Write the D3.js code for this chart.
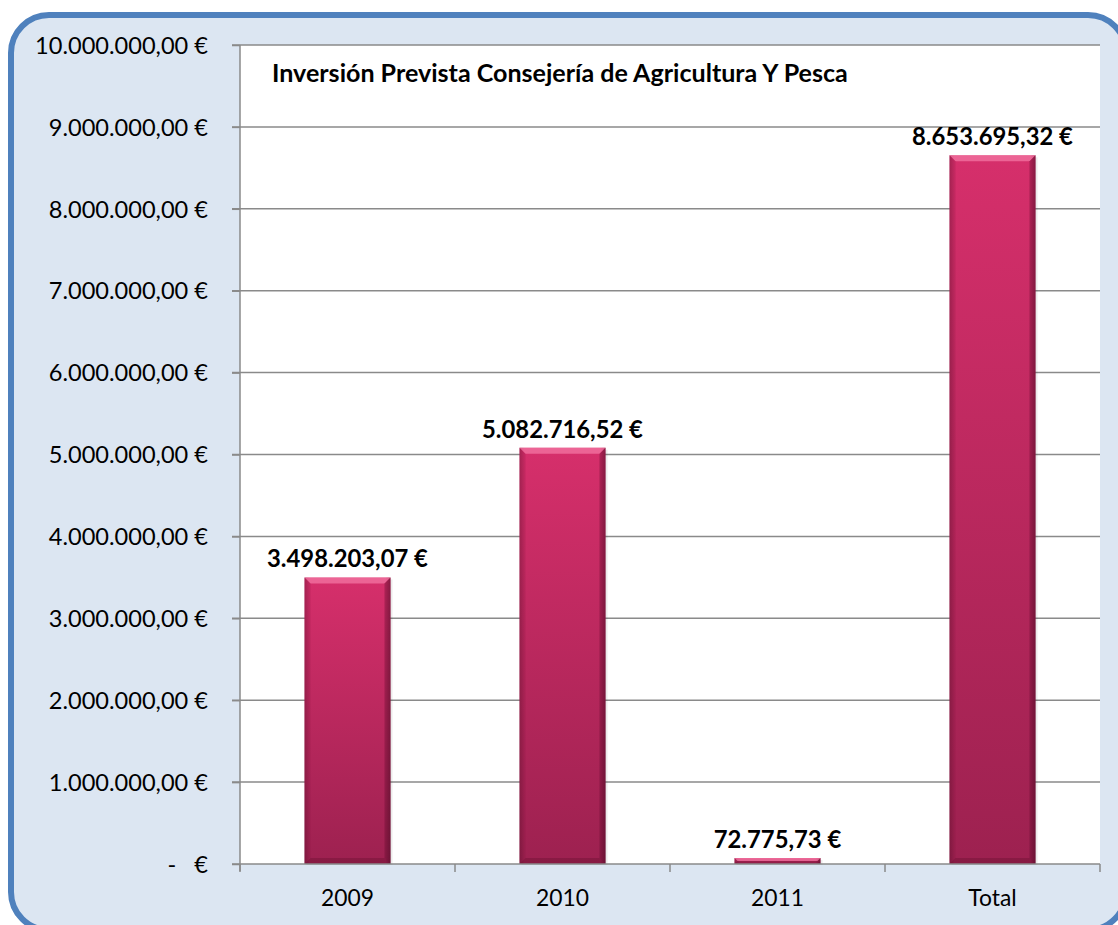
<!DOCTYPE html>
<html><head><meta charset="utf-8">
<script src="https://cdn.jsdelivr.net/npm/d3@7"></script>
<style>
html,body{margin:0;padding:0;background:#fff;}
svg{display:block;}
text{font-family:Lato,"Noto Sans",sans-serif;fill:#000;}
</style></head>
<body><svg id="chart" width="1118" height="925"></svg>
<script>
// ---- data ----
const categories = ["2009", "2010", "2011", "Total"];
const values = [3498203.07, 5082716.52, 72775.73, 8653695.32];
const yTicks = [0, 1000000, 2000000, 3000000, 4000000, 5000000, 6000000, 7000000, 8000000, 9000000, 10000000];
const title = "Inversión Prevista Consejería de Agricultura Y Pesca";

const svg = d3.select("#chart");
const plot = {left: 240, right: 1100, top: 45, bottom: 864};

const es = d3.formatLocale({decimal: ",", thousands: ".", grouping: [3], currency: ["", " €"]});
const fmt = es.format(",.2f");
const money = v => v === 0 ? "-   €" : fmt(v) + " €";

// defs
const defs = svg.append("defs");
const g1 = defs.append("linearGradient").attr("id", "barGrad").attr("x1", 0).attr("y1", 0).attr("x2", 0).attr("y2", 1);
g1.append("stop").attr("offset", "0%").attr("stop-color", "#d62f6b");
g1.append("stop").attr("offset", "100%").attr("stop-color", "#9d2150");
const g2 = defs.append("linearGradient").attr("id", "sideGrad").attr("x1", 0).attr("y1", 0).attr("x2", 1).attr("y2", 0);
g2.append("stop").attr("offset", "0%").attr("stop-color", "#000").attr("stop-opacity", 0.18);
g2.append("stop").attr("offset", "6%").attr("stop-color", "#000").attr("stop-opacity", 0.0);
g2.append("stop").attr("offset", "94%").attr("stop-color", "#000").attr("stop-opacity", 0.0);
g2.append("stop").attr("offset", "100%").attr("stop-color", "#000").attr("stop-opacity", 0.25);

// background frame
svg.append("rect").attr("x", 11).attr("y", 15).attr("width", 1115).attr("height", 915)
  .attr("rx", 38).attr("ry", 38)
  .attr("fill", "#dce6f2").attr("stroke", "#4f81bd").attr("stroke-width", 6);

// plot background
svg.append("rect").attr("x", plot.left).attr("y", plot.top)
  .attr("width", plot.right - plot.left).attr("height", plot.bottom - plot.top).attr("fill", "#fff");

const x = d3.scaleBand().domain(categories).range([plot.left, plot.right]).paddingInner(0.6).paddingOuter(0.3);
const y = d3.scaleLinear().domain([0, 10000000]).range([plot.bottom, plot.top]);

// gridlines
svg.append("g").selectAll("line").data(yTicks.filter(d => d > 0)).join("line")
  .attr("x1", plot.left - 8).attr("x2", plot.right)
  .attr("y1", d => y(d)).attr("y2", d => y(d))
  .attr("stroke", "#8a8a8a").attr("stroke-width", 1.5);

// y axis
const yAxis = d3.axisLeft(y).tickValues(yTicks).tickSize(8).tickPadding(24).tickFormat(money);
const ya = svg.append("g").attr("transform", `translate(${plot.left},0)`).call(yAxis);
ya.select(".domain").attr("stroke", "#8a8a8a").attr("stroke-width", 1.5).attr("d", `M0,${plot.top}V${plot.bottom + 7}`);
ya.selectAll(".tick line").attr("stroke", "#8a8a8a").attr("stroke-width", 1.5);
ya.selectAll(".tick text").attr("font-family", "Lato, 'Noto Sans', sans-serif").attr("fill", "#000")
  .style("white-space", "pre").attr("dy", "0.35em").attr("class", "ytl");

// bars
const bev = 6;
const bars = svg.append("g").selectAll("g").data(values).join("g");
bars.each(function(v, i) {
  const g = d3.select(this);
  const x0 = x(categories[i]), w = x.bandwidth();
  const y0 = y(v), h = y(0) - y(v);
  const b = Math.min(bev, h / 2);
  g.append("rect").attr("x", x0 + 2).attr("y", y0 + 2).attr("width", w).attr("height", h - 1)
    .attr("fill", "#000").attr("opacity", 0.08);
  g.append("rect").attr("x", x0).attr("y", y0).attr("width", w).attr("height", h).attr("fill", "url(#barGrad)");
  g.append("rect").attr("x", x0).attr("y", y0).attr("width", w).attr("height", h).attr("fill", "url(#sideGrad)");
  g.append("path").attr("d", `M${x0},${y0}H${x0 + w}L${x0 + w - b},${y0 + b}H${x0 + b}Z`)
    .attr("fill", "#ff8fb8").attr("opacity", 0.55);
  g.append("path").attr("d", `M${x0},${y0}L${x0 + b},${y0 + b}V${y0 + h - b}L${x0},${y0 + h}Z`)
    .attr("fill", "#7a0f38").attr("opacity", 0.18);
  g.append("path").attr("d", `M${x0 + w},${y0}L${x0 + w - b},${y0 + b}V${y0 + h - b}L${x0 + w},${y0 + h}Z`)
    .attr("fill", "#5a0a28").attr("opacity", 0.35);
  g.append("path").attr("d", `M${x0},${y0 + h}H${x0 + w}L${x0 + w - b},${y0 + h - b}H${x0 + b}Z`)
    .attr("fill", "#5a0a28").attr("opacity", 0.3);
});

// x axis
const xa = svg.append("g").attr("transform", `translate(0,${plot.bottom})`);
xa.append("line").attr("x1", plot.left - 8).attr("x2", plot.right).attr("y1", 0).attr("y2", 0)
  .attr("stroke", "#8a8a8a").attr("stroke-width", 1.5);
const step = x.step();
const bounds = categories.map((c, i) => plot.left + i * step).concat([plot.right]);
xa.selectAll("line.t").data(bounds).join("line").attr("class", "t")
  .attr("x1", d => d).attr("x2", d => d).attr("y1", 0).attr("y2", 8)
  .attr("stroke", "#8a8a8a").attr("stroke-width", 1.5);
xa.selectAll("text").data(categories).join("text").attr("class", "xtl")
  .attr("x", d => x(d) + x.bandwidth() / 2).attr("y", 42).attr("text-anchor", "middle").text(d => d);

// data labels
svg.append("g").selectAll("text").data(values).join("text").attr("class", "dl")
  .attr("x", (d, i) => x(categories[i]) + x.bandwidth() / 2)
  .attr("y", d => y(d) - 10).attr("text-anchor", "middle").attr("font-weight", "bold")
  .text(d => money(d));

// title
svg.append("text").attr("class", "ttl").attr("x", 272).attr("y", 82).attr("font-weight", "bold").text(title);

// fit font sizes to reference widths
function fit(sel, sample, target) {
  sel.attr("font-size", 20);
  const node = sel.filter(function() { return d3.select(this).text() === sample; }).node() || sel.node();
  const w = node.getComputedTextLength();
  sel.attr("font-size", 20 * target / w);
}
fit(svg.selectAll(".ytl"), "10.000.000,00 €", 173);
fit(svg.selectAll(".xtl"), "2009", 53);
fit(svg.selectAll(".dl"), "3.498.203,07 €", 161);
fit(svg.selectAll(".ttl"), title, 576);
</script>
</body></html>
